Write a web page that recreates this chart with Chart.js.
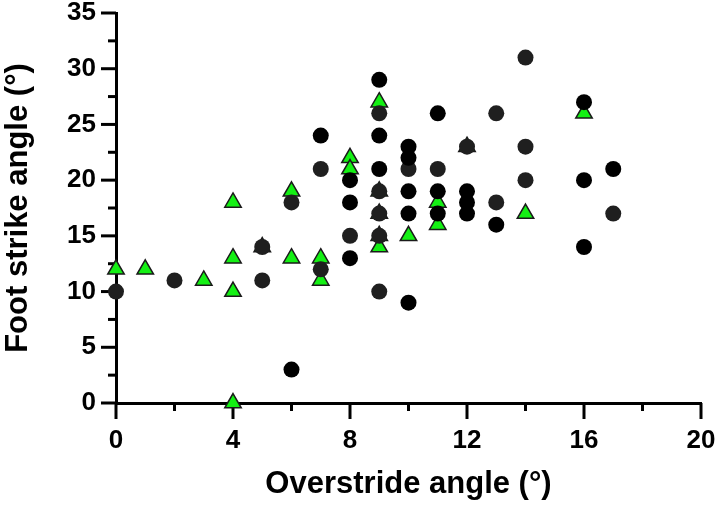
<!DOCTYPE html>
<html>
<head>
<meta charset="utf-8">
<script src="https://cdn.jsdelivr.net/npm/chart.js@4.4.0/dist/chart.umd.min.js"></script>
<style>
	html, body { margin: 0; padding: 0; background: #fff; }
	#wrap { width: 717px; height: 509px; }
</style>
</head>
<body>
<div id="wrap"><canvas id="chart"></canvas></div>
<script>
// black circles
const blackX = [6, 7, 8, 8, 8, 9, 9, 9, 10, 10, 10, 10, 10, 11, 11, 11, 12, 12, 12, 13, 16, 16, 16, 17];
const blackY = [3, 24, 20, 18, 13, 29, 24, 21, 23, 22, 19, 17, 9, 26, 19, 17, 19, 18, 17, 16, 27, 20, 14, 21];
// dark grey circles
const greyX = [0, 2, 5, 5, 6, 7, 7, 8, 9, 9, 9, 9, 9, 10, 11, 12, 13, 13, 14, 14, 14, 17];
const greyY = [10, 11, 14, 11, 18, 21, 12, 15, 26, 19, 17, 15, 10, 21, 21, 23, 26, 18, 31, 23, 20, 17];
// green triangles
const triX = [0, 1, 3, 4, 4, 4, 4, 5, 6, 6, 7, 7, 8, 8, 9, 9, 9, 9, 9, 10, 11, 11, 12, 14, 16];
const triY = [12, 12, 11, 18, 13, 10, 0, 14, 19, 13, 13, 11, 22, 21, 27, 19, 17, 15, 14, 15, 18, 16, 23, 17, 26];

const X_TICKS = [0, 2, 4, 6, 8, 10, 12, 14, 16, 18, 20];
const X_LABELS = ['0', '', '4', '', '8', '', '12', '', '16', '', '20'];
const Y_TICKS = [0, 2.5, 5, 7.5, 10, 12.5, 15, 17.5, 20, 22.5, 25, 27.5, 30, 32.5, 35];
const Y_LABELS = ['0', '', '5', '', '10', '', '15', '', '20', '', '25', '', '30', '', '35'];

const FONT = "'Liberation Sans', Arial, sans-serif";

function toPoints(xs, ys) {
	return xs.map((x, i) => ({ x: x, y: ys[i] }));
}

// axis tick marks, long for labelled ticks and short for the others
const tickMarks = {
	id: 'tickMarks',
	beforeDatasetsDraw: (chart) => {
		const { ctx, scales: { x, y } } = chart;
		ctx.save();
		ctx.strokeStyle = '#000';
		ctx.lineWidth = 3;
		ctx.lineCap = 'butt';
		X_TICKS.forEach((v, i) => {
			const px = x.getPixelForValue(v);
			const len = X_LABELS[i] ? 16 : 8;
			ctx.beginPath();
			ctx.moveTo(px, y.bottom);
			ctx.lineTo(px, y.bottom + len);
			ctx.stroke();
		});
		Y_TICKS.forEach((v, i) => {
			const py = y.getPixelForValue(v);
			const len = Y_LABELS[i] ? 15 : 8;
			ctx.beginPath();
			ctx.moveTo(x.left, py);
			ctx.lineTo(x.left - len, py);
			ctx.stroke();
		});
		ctx.restore();
	},
};

const config = {
	type: 'scatter',
	data: {
		datasets: [
			{
				label: 'Black',
				data: toPoints(blackX, blackY),
				pointStyle: 'circle',
				pointRadius: 8,
				backgroundColor: '#000000',
				borderWidth: 0,
				clip: false,
			},
			{
				label: 'Grey',
				data: toPoints(greyX, greyY),
				pointStyle: 'circle',
				pointRadius: 8,
				backgroundColor: '#1f1f1f',
				borderWidth: 0,
				clip: false,
			},
			{
				label: 'Triangles',
				data: toPoints(triX, triY),
				pointStyle: 'triangle',
				pointRadius: 9.5,
				backgroundColor: '#14f014',
				borderColor: '#1a1a1a',
				borderWidth: 1.5,
				clip: false,
			},
		],
	},
	options: {
		responsive: true,
		maintainAspectRatio: false,
		animation: false,
		layout: {
			padding: { left: 0, right: 16, top: 13, bottom: 0 },
		},
		plugins: {
			legend: { display: false },
			tooltip: { enabled: false },
		},
		scales: {
			x: {
				type: 'linear',
				min: 0,
				max: 20,
				afterBuildTicks: (scale) => {
					scale.ticks = X_TICKS.map(v => ({ value: v }));
				},
				afterFit: (scale) => {
					scale.height = 106;
					scale.paddingLeft = 0;
					scale.paddingRight = 0;
				},
				grid: { display: true, drawOnChartArea: false, drawTicks: false, color: 'rgba(0,0,0,0)' },
				border: { display: true, color: '#000', width: 3 },
				ticks: {
					padding: 22,
					color: '#000',
					maxRotation: 0,
					autoSkip: false,
					font: { family: FONT, size: 26, weight: 'bold' },
					callback: (value, index) => X_LABELS[index],
				},
				title: {
					display: true,
					text: 'Overstride angle (°)',
					color: '#000',
					font: { family: FONT, size: 31, weight: 'bold' },
					padding: { top: 0, bottom: 6 },
				},
			},
			y: {
				type: 'linear',
				min: 0,
				max: 35,
				afterBuildTicks: (scale) => {
					scale.ticks = Y_TICKS.map(v => ({ value: v }));
				},
				afterFit: (scale) => {
					scale.width = 116;
					scale.paddingTop = 0;
					scale.paddingBottom = 0;
				},
				grid: { display: true, drawOnChartArea: false, drawTicks: false, color: 'rgba(0,0,0,0)' },
				border: { display: true, color: '#000', width: 3 },
				ticks: {
					padding: 20,
					color: '#000',
					autoSkip: false,
					font: { family: FONT, size: 26, weight: 'bold' },
					callback: (value, index) => Y_LABELS[index],
				},
				title: {
					display: true,
					text: 'Foot strike angle (°)',
					color: '#000',
					font: { family: FONT, size: 31, weight: 'bold' },
					padding: { top: 0, bottom: 0 },
				},
			},
		},
	},
	plugins: [tickMarks],
};

new Chart(document.getElementById('chart'), config);
</script>
</body>
</html>
